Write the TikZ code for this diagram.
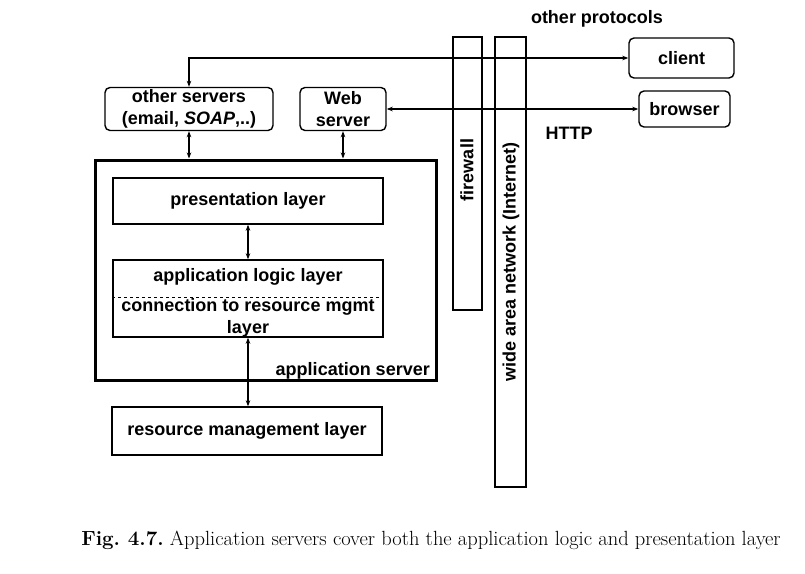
\documentclass[tikz,border=0pt]{standalone}
\usepackage{fontspec}
\newfontfamily\diafont{Liberation Sans}
\usetikzlibrary{arrows.meta}
\frenchspacing
\begin{document}
\begin{tikzpicture}[x=1pt,y=-1pt,
  every node/.style={font=\diafont\bfseries\fontsize{18}{21}\selectfont, inner sep=0pt},
  rbox/.style={draw, line width=1.4pt, rounded corners=5pt, align=center},
  sbox/.style={draw, line width=1.4pt},
  wall/.style={draw, line width=1.8pt},
  arr/.style={line width=1.4pt, {Stealth[length=6pt,width=4.5pt]}-{Stealth[length=6pt,width=4.5pt]}},
  lbl/.style={}
]
\useasboundingbox (0,0) rectangle (805,573);
% walls
\node[wall, minimum width=29pt, minimum height=273pt] (fw) at (467.5,173.5) {};
\node[rotate=90] (fwt) at (467,170) {firewall};
\node[wall, minimum width=31pt, minimum height=450pt] (wan) at (510.5,262) {};
\node[rotate=90] (want) at (511,262) {wide area network (Internet)};
% top boxes
\node[rbox, minimum width=168pt, minimum height=43pt, font=\diafont\bfseries\fontsize{18}{22}\selectfont] (os) at (189,109) {other servers\\(email, \textit{SOAP},..)};
\node[rbox, minimum width=86pt, minimum height=43pt, font=\diafont\bfseries\fontsize{18}{22}\selectfont] (ws) at (343,109) {Web\\server};
\node[rbox, minimum width=105pt, minimum height=40pt] (cl) at (681.5,58) {client};
\node[rbox, minimum width=91pt, minimum height=36pt] (br) at (684.5,109) {browser};
\node (op) at (597,19) {other protocols};
\node (http) at (569,133) {HTTP};
% application server
\node[draw, line width=3pt, minimum width=341pt, minimum height=220pt] (as) at (265.5,270) {};
\node[anchor=east] (ast) at (430,371) {application server};
\node[sbox, minimum width=270pt, minimum height=46pt] (pl) at (248,201) {presentation layer};
\node[sbox, minimum width=270pt, minimum height=77pt] (al) at (248,298.5) {};
\draw[dashed, line width=0.8pt] ([yshift=1.5pt]al.west) -- ([yshift=1.5pt]al.east);
\node (alt) at (248,277) {application logic layer};
\node (ct) at (248,307) {connection to resource mgmt};
\node (ct2) at (248,329) {layer};
\node[sbox, minimum width=270pt, minimum height=48pt] (rm) at (247,431) {resource management layer};
% connectors
\draw[arr] (cl.west) -| (os.north);
\draw[arr] (ws.east) -- (ws.east -| br.west);
\draw[arr] (os.south) -- (os.south |- as.north);
\draw[arr] (ws.south) -- (ws.south |- as.north);
\draw[arr] (pl.south) -- (pl.south |- al.north);
\draw[arr] (al.south) -- (al.south |- rm.north);
% caption
\node[font=\rmfamily\fontsize{20.5}{24}\selectfont] (cap) at (431,540) {\textbf{Fig. 4.7.} Application servers cover both the application logic and presentation layer};
\end{tikzpicture}
\end{document}
